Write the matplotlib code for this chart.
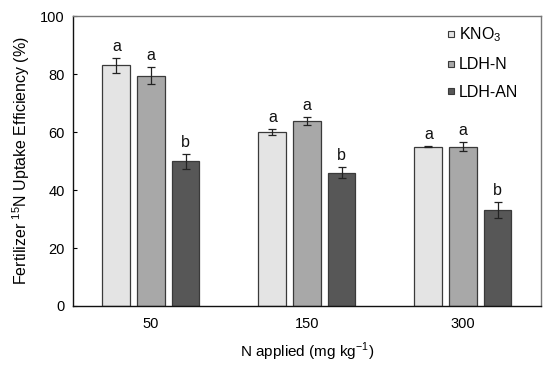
import matplotlib
matplotlib.use("Agg")
import matplotlib.pyplot as plt
import numpy as np
from matplotlib.lines import Line2D

plt.rcParams['font.family'] = ['Liberation Sans', 'DejaVu Sans']
plt.rcParams['mathtext.fontset'] = 'custom'
plt.rcParams['mathtext.rm'] = 'Liberation Sans'

categories = ["50", "150", "300"]
series_names = ["KNO$_3$", "LDH-N", "LDH-AN"]
kno3 = [83.0, 60.0, 55.0]
ldhn = [79.5, 63.8, 55.0]
ldhan = [49.9, 46.0, 33.1]
kno3_err = [2.7, 1.1, 0.3]
ldhn_err = [3.0, 1.4, 1.5]
ldhan_err = [2.6, 2.0, 2.9]
kno3_letters = ["a", "a", "a"]
ldhn_letters = ["a", "a", "a"]
ldhan_letters = ["b", "b", "b"]

colors = ["#e4e4e4", "#a8a8a8", "#575757"]
edge = "#3a3a3a"

fig = plt.figure(figsize=(5.5, 3.66), dpi=100)
ax = fig.add_axes([0.1327, 0.164, 0.8509, 0.792])

x = np.arange(len(categories))
offsets = [-0.222, 0.0, 0.222]
data = [kno3, ldhn, ldhan]
errs = [kno3_err, ldhn_err, ldhan_err]
letters = [kno3_letters, ldhn_letters, ldhan_letters]
for vals, err, col, off, let in zip(data, errs, colors, offsets, letters):
    ax.bar(x + off, vals, width=0.178,
           color=col, edgecolor=edge, linewidth=0.9, zorder=2)
    ax.errorbar(x + off, vals, yerr=err, fmt='none', ecolor='#222222',
                elinewidth=0.9, capsize=3, capthick=0.9, zorder=3)
    for xi, v, e, l in zip(x + off, vals, err, let):
        ax.text(xi, v + e + 1.3, l, ha='center', va='bottom', fontsize=11.5, color='#111111')

ax.set_xlim(-0.5, 2.5)
ax.set_ylim(0, 100)
ax.set_yticks([0, 20, 40, 60, 80, 100])
ax.set_xticks(x)
ax.set_xticklabels(categories)
ax.tick_params(axis='y', direction='in', length=3, labelsize=10.5, pad=6, width=0.8)
ax.tick_params(axis='x', length=0, labelsize=10.5, pad=8)
for s in ['left', 'bottom']:
    ax.spines[s].set_color('#111111')
    ax.spines[s].set_linewidth(1.0)
for s in ['top', 'right']:
    ax.spines[s].set_color('#777777')
    ax.spines[s].set_linewidth(1.0)

ax.set_ylabel("Fertilizer $^{15}$N Uptake Efficiency (%)", fontsize=11.5, labelpad=6)
ax.set_xlabel("N applied (mg kg$^{-1}$)", fontsize=11, labelpad=7)

handles = [Line2D([0], [0], marker='s', linestyle='none', markersize=5,
                  markerfacecolor=c, markeredgecolor=edge, markeredgewidth=0.8)
           for c in colors]
ax.legend(handles, series_names, loc='upper right', frameon=False, fontsize=11.5,
          handlelength=0.5, handletextpad=0.25, labelspacing=0.8,
          borderaxespad=0.2, bbox_to_anchor=(0.972, 1.0))

fig.savefig("out.png", dpi=100)
